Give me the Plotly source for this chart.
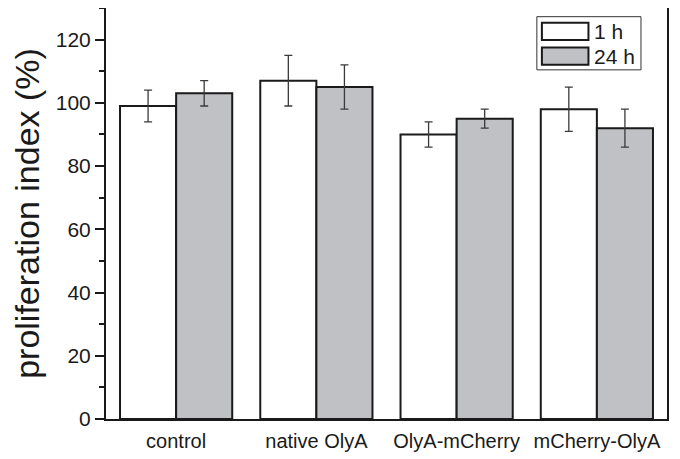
import plotly.graph_objects as go

categories = ["control", "native OlyA", "OlyA-mCherry", "mCherry-OlyA"]
series_names = ["1 h", "24 h"]
values_1h = [99, 107, 90, 98]
errors_1h = [5, 8, 4, 7]
values_24h = [103, 105, 95, 92]
errors_24h = [4, 7, 3, 6]
y_ticks = [0, 20, 40, 60, 80, 100, 120]

FONT = "Liberation Sans, Arial, sans-serif"
INK = "#1a1a1a"
GRAY = "#c0c1c4"

fig = go.Figure()
for name, vals, errs, fill in [(series_names[0], values_1h, errors_1h, "white"),
                               (series_names[1], values_24h, errors_24h, GRAY)]:
    fig.add_trace(go.Bar(
        x=categories, y=vals, name=name,
        marker=dict(color=fill, line=dict(color=INK, width=2)),
        error_y=dict(type="data", array=errs, visible=True,
                     color="#3a3a3a", thickness=1.3, width=4),
    ))

# page body adds an 8px offset; margins compensate so the plot area lands
# at x 106..667, y 7..419 in the 680x459 window
fig.update_layout(
    width=680, height=459,
    margin=dict(l=98, r=21, t=0, b=48),
    paper_bgcolor="white", plot_bgcolor="white",
    barmode="group", bargap=0.2, bargroupgap=0,
    showlegend=False,
    font=dict(family=FONT, color=INK, size=20),
    xaxis=dict(showline=True, linecolor=INK, linewidth=2, mirror=True,
               ticks="", showgrid=False, tickfont=dict(size=20),
               range=[-0.5, 3.5], automargin=False, ticklabelstandoff=3),
    yaxis=dict(range=[0, 130], tickvals=y_ticks, showline=True, linecolor=INK,
               linewidth=2, mirror=True, ticks="outside", ticklen=9,
               tickwidth=1.5, tickcolor=INK, showgrid=False, zeroline=False,
               tickfont=dict(size=21), automargin=False,
               ticksuffix="\u2002",
               minor=dict(dtick=10, ticks="outside", ticklen=5, tickwidth=1.5,
                          tickcolor=INK, showgrid=False),
               title=dict(text="proliferation index (%)", font=dict(size=34),
                          standoff=10)),
)

# legend drawn as box with wide swatches
fig.add_shape(type="rect", xref="paper", yref="paper", x0=0.768, x1=0.9536,
              y0=0.8495, y1=0.9789, line=dict(color="#333", width=1),
              fillcolor="white")
for (y0, y1, fill) in [(0.922, 0.964, "white"), (0.8617, 0.904, GRAY)]:
    fig.add_shape(type="rect", xref="paper", yref="paper", x0=0.777, x1=0.860,
                  y0=y0, y1=y1, line=dict(color=INK, width=2), fillcolor=fill)
for name, yy in zip(series_names, [0.943, 0.883]):
    fig.add_annotation(text=name, xref="paper", yref="paper", x=0.866, y=yy,
                       xanchor="left", yanchor="middle", showarrow=False,
                       font=dict(size=21, family=FONT, color=INK))

fig.write_html("out.html")
